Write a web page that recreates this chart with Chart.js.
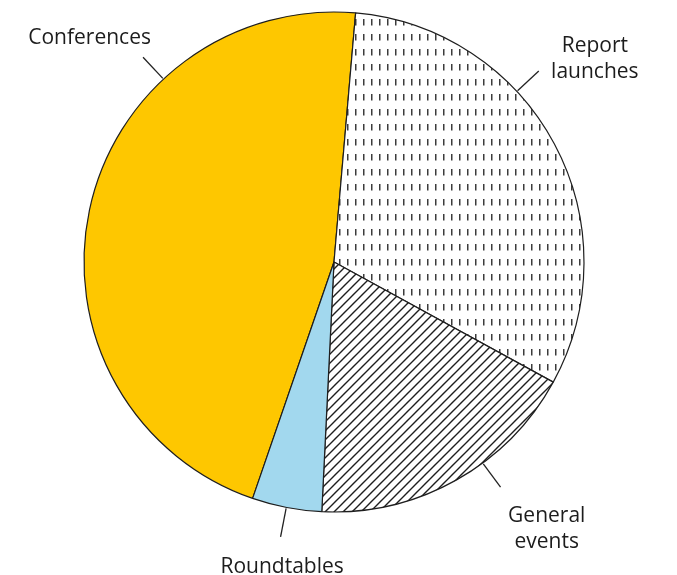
<!DOCTYPE html>
<html>
<head>
<meta charset="utf-8">
<script src="https://cdn.jsdelivr.net/npm/chart.js@4.4.1/dist/chart.umd.min.js"></script>
<style>
  html, body { margin: 0; padding: 0; background: #ffffff; }
  #wrap { width: 677px; height: 575px; position: relative; }
</style>
</head>
<body>
<div id="wrap"><canvas id="c" width="677" height="575"></canvas></div>
<script>
// ---- data ----
const categories = ['Conferences', 'Report launches', 'General events', 'Roundtables'];
const shares = [46.1, 31.6, 17.8, 4.5];
const labelLines = [['Conferences'], ['Report', 'launches'], ['General', 'events'], ['Roundtables']];

// ---- styles ----
function dashPattern() {
  const t = document.createElement('canvas');
  t.width = 8; t.height = 15;
  const g = t.getContext('2d');
  g.fillStyle = '#ffffff'; g.fillRect(0, 0, 8, 15);
  g.fillStyle = '#3c3c3c'; g.fillRect(3, 4, 1.5, 6.5);
  return g.createPattern(t, 'repeat');
}
function hatchPattern() {
  const s = 9;
  const t = document.createElement('canvas');
  t.width = s; t.height = s;
  const g = t.getContext('2d');
  g.fillStyle = '#ffffff'; g.fillRect(0, 0, s, s);
  g.strokeStyle = '#1e1e1e'; g.lineWidth = 1.4;
  g.beginPath();
  g.moveTo(-1, s + 1); g.lineTo(s + 1, -1);
  g.moveTo(-1, 1); g.lineTo(1, -1);
  g.moveTo(s - 1, s + 1); g.lineTo(s + 1, s - 1);
  g.stroke();
  return g.createPattern(t, 'repeat');
}
const ctx = document.getElementById('c').getContext('2d');
const fills = ['#FEC700', dashPattern(), hatchPattern(), '#A2D8EE'];

// label placement: leader angle (deg clockwise from top), text centre (angle, distance)
const labelPlacement = [
  { lead: 317, tAng: 312.6, tDist: 332 },
  { lead: 47, tAng: 52, tDist: 331 },
  { lead: 143.5, tAng: 141.4, tDist: 341 },
  { lead: 191, tAng: 189.7, tDist: 308 }
];

const calloutPlugin = {
  id: 'callouts',
  afterDraw(chart) {
    const arc = chart.getDatasetMeta(0).data[0];
    if (!arc) return;
    const cx = arc.x, cy = arc.y, r = arc.outerRadius;
    const c = chart.ctx;
    c.save();
    c.strokeStyle = '#222222';
    c.lineWidth = 1.3;
    c.fillStyle = '#1c1c1c';
    c.font = '21px "Open Sans", sans-serif';
    c.textAlign = 'center';
    c.textBaseline = 'middle';
    labelPlacement.forEach((p, i) => {
      const a = p.lead * Math.PI / 180;
      const sx = Math.sin(a), sy = -Math.cos(a);
      c.beginPath();
      c.moveTo(cx + sx * (r + 1), cy + sy * (r + 1));
      c.lineTo(cx + sx * (r + 30), cy + sy * (r + 30));
      c.stroke();
      const ta = p.tAng * Math.PI / 180;
      const tx = cx + Math.sin(ta) * p.tDist;
      const ty = cy - Math.cos(ta) * p.tDist + 1;
      const lines = labelLines[i];
      const lh = 26;
      lines.forEach((ln, k) => {
        c.fillText(ln, tx, ty + (k - (lines.length - 1) / 2) * lh);
      });
    });
    c.restore();
  }
};

new Chart(ctx, {
  type: 'pie',
  data: {
    labels: categories,
    datasets: [{
      data: shares,
      backgroundColor: fills,
      borderColor: '#1e1e1e',
      borderWidth: 1.2
    }]
  },
  options: {
    responsive: false,
    animation: false,
    rotation: 199,
    radius: 250,
    layout: { padding: { left: 0, right: 9, top: 0, bottom: 51 } },
    plugins: {
      legend: { display: false },
      tooltip: { enabled: false }
    }
  },
  plugins: [calloutPlugin]
});
</script>
</body>
</html>
